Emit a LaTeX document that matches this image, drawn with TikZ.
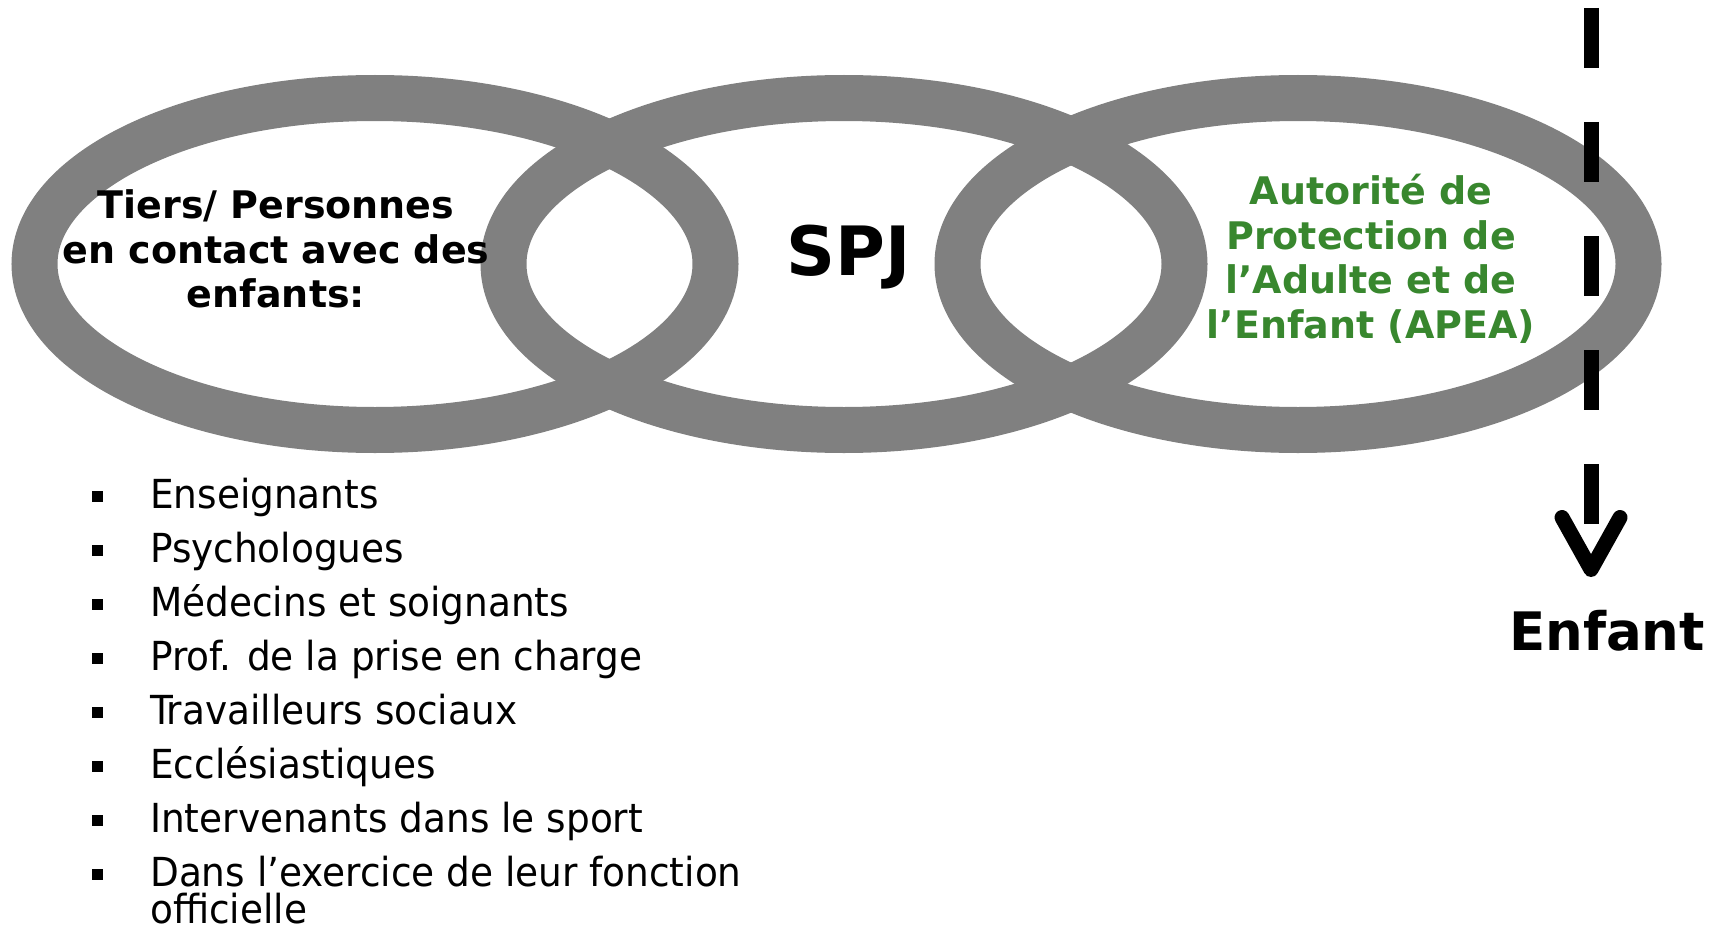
\documentclass[tikz,border=0pt]{standalone}
\usepackage{fontspec}
\setmainfont{DejaVu Sans}
\newfontfamily\condfont[FakeStretch=1.04]{DejaVu Sans Condensed}
\usetikzlibrary{shapes.geometric,arrows.meta}

\definecolor{ringgray}{RGB}{128,128,128}
\definecolor{apeagreen}{RGB}{56,135,46}

\tikzset{
  ring/.style={ellipse, draw=ringgray, line width=46pt,
    minimum width=681pt, minimum height=332pt, inner sep=0pt},
  heading/.style={font=\bfseries\fontsize{38}{44.5}\selectfont, align=center},
  listitem/.style={anchor=base west, inner sep=0pt, align=left,
    font=\condfont\fontsize{40}{43}\selectfont},
  squarebullet/.style={fill=black, minimum size=11pt, inner sep=0pt},
  childarrow/.style={line width=15pt, dash pattern=on 60pt off 54pt,
    -{Straight Barb[length=52pt, width=58pt, round]}},
}

\begin{document}
\begin{tikzpicture}[x=1pt,y=-1pt]
\useasboundingbox (0,0) rectangle (1734,931);

% the three linked rings
\node[ring] (tiers) at (375,264) {};
\node[ring] (spj)   at (844,264) {};
\node[ring] (apea)  at (1298,264) {};

\node[heading] (tierstext) at (276,249)
  {Tiers/ Personnes\\en contact avec des\\enfants:};
\node[font=\bfseries\fontsize{68}{70}\selectfont] (spjtext) at (849,257) {SPJ};
\node[heading, text=apeagreen] (apeatext) at (1371,259)
  {Autorité de\\Protection de\\l’Adulte et de\\l’Enfant (APEA)};

% arrow down to the child
\coordinate (arrowtop) at (1591,8);
\coordinate (arrowtip) at (1591,577);
\node[font=\bfseries\fontsize{53}{56}\selectfont] (enfant) at (1607,631) {Enfant};
\draw[childarrow] (arrowtop) -- (arrowtip);

% who is concerned
\foreach \txt [count=\i from 0] in {Enseignants, Psychologues,
    Médecins et soignants, Prof. de la prise en charge,
    Travailleurs sociaux, Ecclésiastiques, Intervenants dans le sport,
    Dans l’exercice de leur fonction} {
  \node[squarebullet] (bullet\i) at (97,{496+54.1*\i}) {};
  \node[listitem] (item\i) at (150,{508+54.1*\i}) {\txt};
}
\node[listitem] (item7b) at (150,923) {officielle};
\end{tikzpicture}
\end{document}
